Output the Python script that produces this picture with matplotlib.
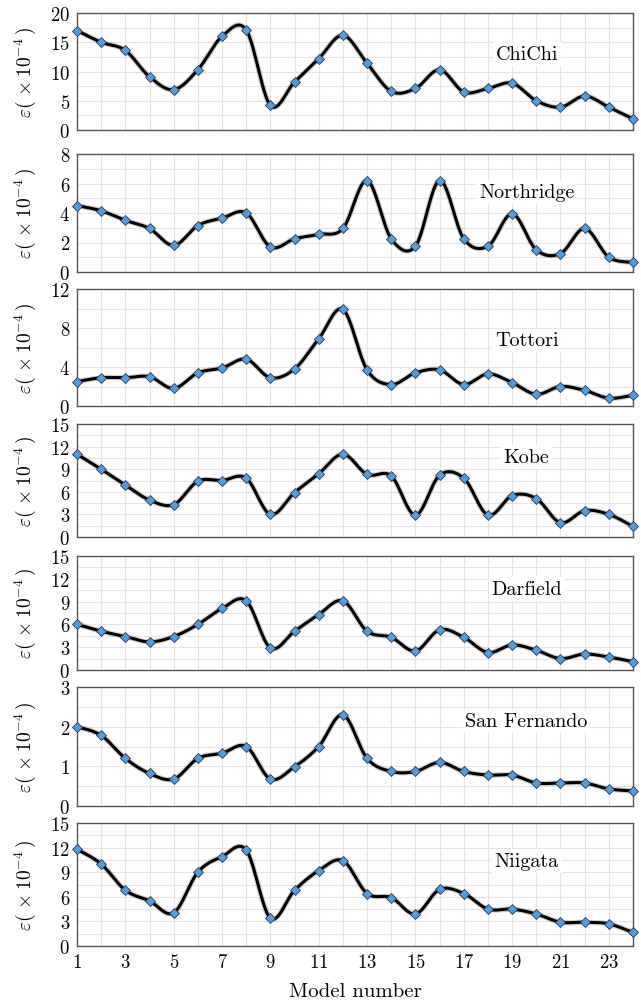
import numpy as np
import matplotlib
matplotlib.use("Agg")
import matplotlib.pyplot as plt
from matplotlib.ticker import MultipleLocator

plt.rcParams['font.family'] = ['cmr10', 'DejaVu Serif']
plt.rcParams['mathtext.fontset'] = 'cm'
plt.rcParams['axes.formatter.use_mathtext'] = True

models = np.arange(1, 25)

chichi = [17.0, 15.0, 13.6, 9.1, 6.9, 10.3, 16.0, 17.1, 4.2, 8.2, 12.2, 16.2,
          11.4, 6.6, 7.1, 10.3, 6.5, 7.1, 8.0, 5.0, 3.9, 5.8, 3.9, 1.9]
northridge = [4.5, 4.15, 3.5, 2.95, 1.8, 3.15, 3.65, 4.0, 1.7, 2.25, 2.55, 2.95,
              6.2, 2.25, 1.75, 6.2, 2.25, 1.75, 3.95, 1.5, 1.25, 2.95, 1.0, 0.65]
tottori = [2.5, 2.9, 2.9, 3.0, 1.8, 3.4, 3.9, 4.8, 2.9, 3.8, 6.9, 9.9,
           3.7, 2.2, 3.4, 3.7, 2.2, 3.3, 2.4, 1.2, 2.0, 1.6, 0.8, 1.1]
kobe = [11.0, 9.0, 6.9, 4.9, 4.3, 7.4, 7.5, 7.8, 3.0, 5.9, 8.4, 11.0,
        8.3, 8.1, 2.9, 8.2, 7.8, 2.9, 5.5, 5.1, 1.9, 3.5, 3.0, 1.4]
darfield = [6.0, 5.1, 4.4, 3.7, 4.4, 6.0, 8.1, 9.1, 2.9, 5.1, 7.3, 9.1,
            5.1, 4.3, 2.5, 5.3, 4.3, 2.3, 3.3, 2.6, 1.5, 2.1, 1.7, 1.1]
san_fernando = [2.0, 1.78, 1.2, 0.82, 0.68, 1.2, 1.33, 1.5, 0.68, 0.99, 1.5, 2.3,
                1.2, 0.87, 0.87, 1.1, 0.87, 0.78, 0.78, 0.58, 0.58, 0.58, 0.43, 0.38]
niigata = [11.8, 10.0, 6.8, 5.5, 4.05, 9.0, 10.9, 11.7, 3.4, 6.8, 9.2, 10.4,
           6.4, 5.9, 3.9, 6.9, 6.4, 4.5, 4.5, 3.9, 2.9, 2.9, 2.7, 1.65]

names = ['ChiChi', 'Northridge', 'Tottori', 'Kobe', 'Darfield', 'San Fernando', 'Niigata']
series = [chichi, northridge, tottori, kobe, darfield, san_fernando, niigata]
ymax = [20, 8, 12, 15, 15, 3, 15]
ystep = [5, 2, 4, 3, 3, 1, 3]
label_y = [0.65, 0.68, 0.56, 0.71, 0.71, 0.71, 0.69]


def smooth(x, y, n=25):
    # excel-like smoothed line: cubic bezier through the points (catmull-rom)
    x = np.asarray(x, float)
    y = np.asarray(y, float)
    px = np.concatenate([[x[0]], x, [x[-1]]])
    py = np.concatenate([[y[0]], y, [y[-1]]])
    t = np.linspace(0, 1, n)[:, None]
    xs, ys = [], []
    for i in range(1, len(px) - 2):
        p0 = np.array([px[i], py[i]])
        p3 = np.array([px[i + 1], py[i + 1]])
        c1 = p0 + (np.array([px[i + 1], py[i + 1]]) - np.array([px[i - 1], py[i - 1]])) / 6
        c2 = p3 - (np.array([px[i + 2], py[i + 2]]) - np.array([px[i], py[i]])) / 6
        b = ((1 - t) ** 3) * p0 + 3 * ((1 - t) ** 2) * t * c1 + 3 * (1 - t) * t ** 2 * c2 + t ** 3 * p3
        xs.append(b[:, 0])
        ys.append(b[:, 1])
    return np.concatenate(xs), np.concatenate(ys)


W, H = 641, 1003
fig = plt.figure(figsize=(W / 100, H / 100), dpi=100)
tops = [14, 155, 290, 425, 557, 688, 824]
bottoms = [131, 273, 407, 538, 671, 807, 947]
left, right = 77, 633

for i, (name, vals) in enumerate(zip(names, series)):
    ax = fig.add_axes([left / W, 1 - bottoms[i] / H, (right - left) / W, (bottoms[i] - tops[i]) / H])
    sx, sy = smooth(models, vals)
    ax.plot(sx, sy, color='#888888', lw=3.8, alpha=0.4, solid_capstyle='round', zorder=2)
    ax.plot(sx, sy, color='black', lw=2.2, solid_capstyle='round', zorder=3)
    ax.plot(models, vals, ls='none', marker='D', ms=5.6, mfc='#5b9bd5', mec='#1f3864',
            mew=0.6, zorder=4, clip_on=False)
    ax.set_xlim(1, 24)
    ax.set_ylim(0, ymax[i])
    ax.xaxis.set_major_locator(MultipleLocator(2))
    ax.xaxis.set_minor_locator(MultipleLocator(1))
    ax.yaxis.set_major_locator(MultipleLocator(ystep[i]))
    ax.yaxis.set_minor_locator(MultipleLocator(ystep[i] / 2))
    ax.grid(which='both', color='#e4e4e4', lw=0.8, zorder=0)
    ax.set_axisbelow(True)
    ax.tick_params(which='both', length=0, labelsize=13.5, pad=5)
    for s in ax.spines.values():
        s.set_color('#555555')
        s.set_linewidth(1.0)
    ymid = 1 - (tops[i] + bottoms[i]) / 2 / H
    fig.text(25 / W, ymid, r'$\varepsilon(\,\times 10^{-4}\,)$', rotation=90,
             ha='center', va='center', fontsize=14)
    ax.text(19.6, label_y[i] * ymax[i], name, ha='center', va='center', fontsize=14.5,
            bbox=dict(facecolor='white', edgecolor='none', pad=2), zorder=5)
    if i < len(names) - 1:
        ax.set_xticklabels([])
    else:
        ax.set_xticks(np.arange(1, 24, 2))
        ax.set_xlabel('Model number', fontsize=15, labelpad=8)

fig.savefig('out.png', dpi=100)
